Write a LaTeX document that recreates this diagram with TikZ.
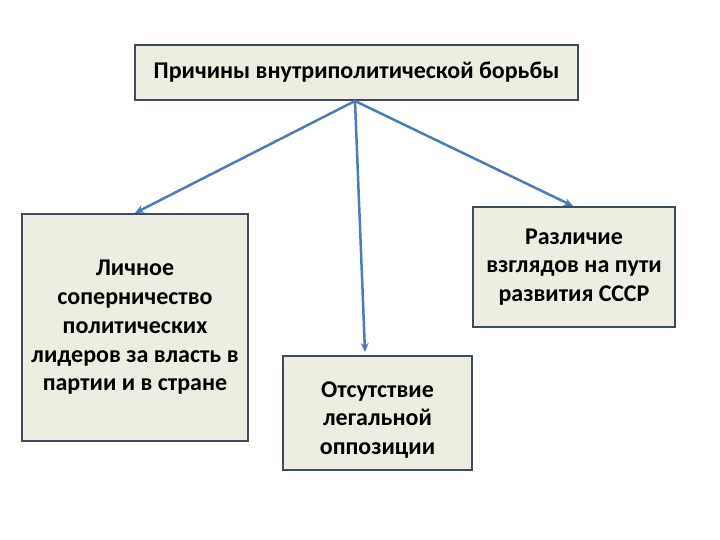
\documentclass[tikz,border=0pt]{standalone}
\usepackage{fontspec}
\setmainfont{Carlito}
\usetikzlibrary{arrows.meta}
\definecolor{boxfill}{HTML}{EDEEE1}
\definecolor{boxline}{HTML}{3D4B5F}
\definecolor{arrowblue}{HTML}{4A7DB8}
\tikzset{
  causebox/.style={draw=boxline, line width=2pt, fill=boxfill, align=center,
    font=\fontsize{24}{28.7}\selectfont\bfseries, inner sep=0pt},
  boxtext/.style={align=center, font=\fontsize{24}{28.7}\selectfont\bfseries, inner sep=0pt},
  link/.style={draw=arrowblue, line width=2.5pt, -{Stealth[length=9pt,width=8pt]}}
}
\begin{document}
\begin{tikzpicture}[x=1pt,y=-1pt]
\useasboundingbox (0,0) rectangle (720,540);
\node[causebox, minimum width=443pt, minimum height=55pt] (top) at (356.5,72.5)
  {Причины внутриполитической борьбы};
\node[causebox, minimum width=226pt, minimum height=227pt] (left) at (135,327.5)
  {Личное\\соперничество\\политических\\лидеров за власть в\\партии и в стране};
\node[causebox, minimum width=202pt, minimum height=120pt] (right) at (574,267)
  {Различие\\взглядов на пути\\развития СССР};
\node[causebox, minimum width=189pt, minimum height=114pt] (mid) at (377.5,413) {};
\node[boxtext] (midtext) at (377.5,420) {Отсутствие\\легальной\\оппозиции};
\coordinate (src) at (355,101);
\coordinate (midend) at (365,352);
\draw[link] (src) -- (left.north);
\draw[link] (src) -- (midend);
\draw[link] (src) -- ([xshift=-1pt]right.north);
\end{tikzpicture}
\end{document}
